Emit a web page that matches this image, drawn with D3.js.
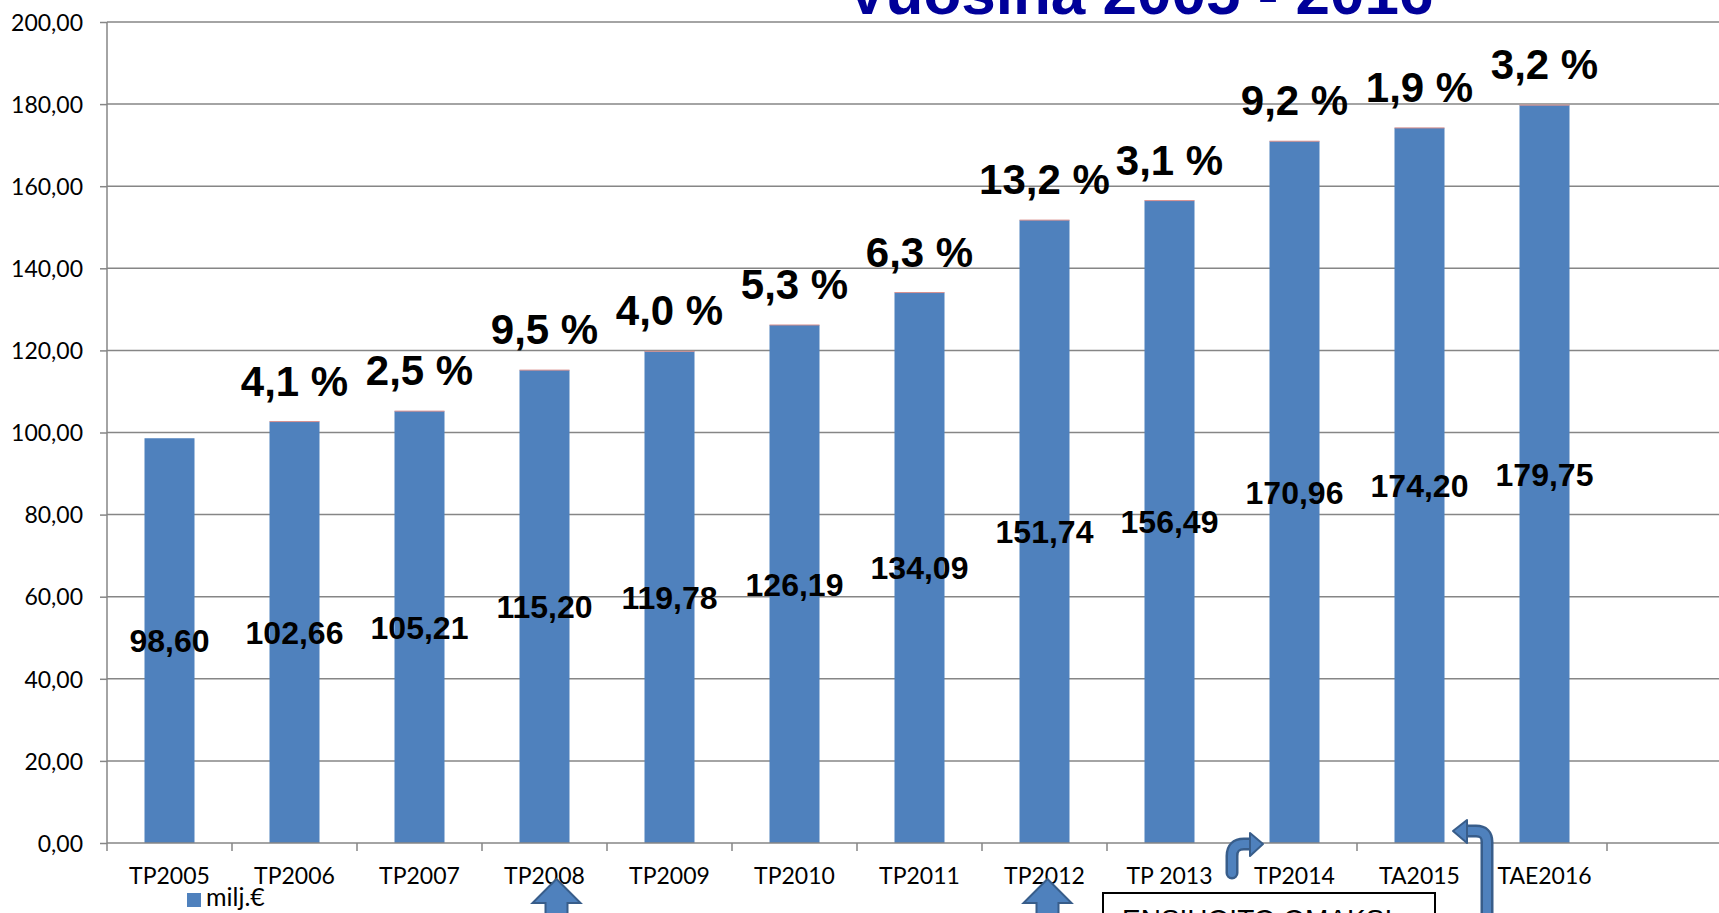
<!DOCTYPE html>
<html>
<head>
<meta charset="utf-8">
<script src="https://cdn.jsdelivr.net/npm/d3@7"></script>
<style>
  body { margin: 0; background: #fff; }
  svg { display: block; }
  .tick-lbl { font-family: Lato, "Open Sans", sans-serif; font-size: 23px; fill: #000; }
  .val { font-family: "Liberation Sans", Arial, sans-serif; font-weight: bold; font-size: 32px; fill: #000; }
  .pct { font-family: "Liberation Sans", Arial, sans-serif; font-weight: bold; font-size: 42px; fill: #000; }
</style>
</head>
<body>
<svg id="chart"></svg>
<script>
// data
const categories = ["TP2005", "TP2006", "TP2007", "TP2008", "TP2009", "TP2010",
  "TP2011", "TP2012", "TP 2013", "TP2014", "TA2015", "TAE2016"];
const values = [98.60, 102.66, 105.21, 115.20, 119.78, 126.19,
  134.09, 151.74, 156.49, 170.96, 174.20, 179.75];
const growthLabels = ["", "4,1 %", "2,5 %", "9,5 %", "4,0 %", "5,3 %",
  "6,3 %", "13,2 %", "3,1 %", "9,2 %", "1,9 %", "3,2 %"];
const yTicks = [0, 20, 40, 60, 80, 100, 120, 140, 160, 180, 200];
const seriesName = "milj.€";
const title = "Vuosina 2005 - 2016";
const boxText = "ENSIHOITO OMAKSI";

const width = 1719, height = 913;
const margin = { top: 22, left: 107, bottom: 70 };
const plotRight = 1607;

const fi = d3.formatLocale({ decimal: ",", thousands: " ", grouping: [3], currency: ["", "€"] });
const fmt = fi.format(".2f");

const svg = d3.select("#chart").attr("width", width).attr("height", height);

const x = d3.scaleBand().domain(categories).range([margin.left, plotRight])
  .paddingInner(0.6).paddingOuter(0.3);
const xStep = d3.scaleBand().domain(categories).range([margin.left, plotRight]);
const y = d3.scaleLinear().domain([0, 200]).range([843, margin.top]);

const grid = "#868686";

// title (cropped at top of the slide)
svg.append("text")
  .attr("x", 1140).attr("y", 14)
  .attr("text-anchor", "middle")
  .style("font-family", "'Liberation Sans', Arial, sans-serif")
  .style("font-weight", "bold")
  .style("font-size", "62px")
  .style("fill", "#000099")
  .text(title);

// gridlines
svg.append("g").selectAll("line").data(yTicks.filter(d => d > 0)).enter()
  .append("line")
  .attr("x1", margin.left).attr("x2", width)
  .attr("y1", d => y(d)).attr("y2", d => y(d))
  .attr("stroke", grid).attr("stroke-width", 1.5);

// y axis
const yAxis = svg.append("g").attr("transform", "translate(" + margin.left + ",0)")
  .call(d3.axisLeft(y).tickValues(yTicks).tickSize(7).tickPadding(17).tickFormat(fmt));
yAxis.select(".domain").attr("stroke", grid).attr("stroke-width", 1.5).attr("d", "M0," + y(200) + "V" + y(0));
yAxis.selectAll(".tick line").attr("stroke", grid).attr("stroke-width", 1.5);
yAxis.selectAll("text").attr("class", "tick-lbl").attr("dy", "0.36em");

// bars
svg.append("g").selectAll("rect").data(values).enter()
  .append("rect")
  .attr("x", (d, i) => x(categories[i]))
  .attr("width", x.bandwidth())
  .attr("y", d => y(d))
  .attr("height", d => y(0) - y(d))
  .attr("fill", "#4F81BD");

// thin second-series sliver on top of bars
svg.append("g").selectAll("line").data(values.slice(1)).enter()
  .append("line")
  .attr("x1", (d, i) => x(categories[i + 1]))
  .attr("x2", (d, i) => x(categories[i + 1]) + x.bandwidth())
  .attr("y1", d => y(d)).attr("y2", d => y(d))
  .attr("stroke", "#d98f8d").attr("stroke-width", 1);

// x axis line + boundary ticks
svg.append("line")
  .attr("x1", margin.left).attr("x2", width)
  .attr("y1", y(0)).attr("y2", y(0))
  .attr("stroke", grid).attr("stroke-width", 1.5);
const bounds = d3.range(categories.length + 1).map(i => xStep.range()[0] + i * xStep.step());
svg.append("g").selectAll("line").data(bounds).enter()
  .append("line")
  .attr("x1", d => d).attr("x2", d => d)
  .attr("y1", y(0)).attr("y2", y(0) + 8)
  .attr("stroke", grid).attr("stroke-width", 1.5);

svg.append("g").selectAll("text").data(categories).enter()
  .append("text")
  .attr("class", "tick-lbl")
  .attr("x", d => xStep(d) + xStep.bandwidth() / 2)
  .attr("y", y(0) + 41)
  .attr("text-anchor", "middle")
  .text(d => d);

// value labels in the middle of the bars
svg.append("g").selectAll("text").data(values).enter()
  .append("text")
  .attr("class", "val")
  .attr("x", (d, i) => x(categories[i]) + x.bandwidth() / 2)
  .attr("y", d => y(d / 2))
  .attr("dy", "0.36em")
  .attr("text-anchor", "middle")
  .text(d => fmt(d));

// growth percentages above the bars
svg.append("g").selectAll("text").data(values).enter()
  .append("text")
  .attr("class", "pct")
  .attr("x", (d, i) => x(categories[i]) + x.bandwidth() / 2)
  .attr("y", d => y(d) - 41)
  .attr("dy", "0.36em")
  .attr("text-anchor", "middle")
  .text((d, i) => growthLabels[i]);

// legend
const lg = svg.append("g");
lg.append("rect").attr("x", 187).attr("y", 893).attr("width", 14).attr("height", 14).attr("fill", "#4F81BD");
lg.append("text").attr("class", "tick-lbl").style("font-size", "25px")
  .attr("x", 206).attr("y", 906).text(seriesName);

// annotation shapes from the slide
const arrowFill = "#4F81BD", arrowEdge = "#385D8A";
function upArrow(cx) {
  const tip = 879, base = 903;
  svg.append("path")
    .attr("d", "M" + cx + "," + tip + "L" + (cx + 24) + "," + base + "H" + (cx + 11) +
      "V" + (height + 5) + "H" + (cx - 11) + "V" + base + "H" + (cx - 24) + "Z")
    .attr("fill", arrowFill).attr("stroke", arrowEdge).attr("stroke-width", 2);
}
upArrow(x("TP2008") + x.bandwidth() / 2 + 12);
upArrow(x("TP2012") + x.bandwidth() / 2 + 3);

function bentArrow(d, head) {
  svg.append("path").attr("d", d).attr("fill", "none")
    .attr("stroke", arrowEdge).attr("stroke-width", 13).attr("stroke-linecap", "round");
  svg.append("path").attr("d", d).attr("fill", "none")
    .attr("stroke", arrowFill).attr("stroke-width", 8).attr("stroke-linecap", "round");
  svg.append("path").attr("d", head)
    .attr("fill", arrowFill).attr("stroke", arrowEdge).attr("stroke-width", 2).attr("stroke-linejoin", "round");
}
bentArrow("M1232,873 V856 Q1232,844 1244,844 H1251",
  "M1250,833 L1263,844 L1250,856 Z");
bentArrow("M1487,925 V842 Q1487,831 1476,831 H1466",
  "M1467,820 L1453,831 L1467,843 Z");

// text box at the bottom (cut off by the slide edge)
svg.append("rect").attr("x", 1103).attr("y", 893).attr("width", 332).attr("height", 40)
  .attr("fill", "#fff").attr("stroke", "#000").attr("stroke-width", 2);
svg.append("text").attr("x", 1122).attr("y", 929)
  .style("font-family", "'Liberation Sans', Arial, sans-serif")
  .style("font-size", "28px").style("fill", "#000")
  .text(boxText);
</script>
</body>
</html>
